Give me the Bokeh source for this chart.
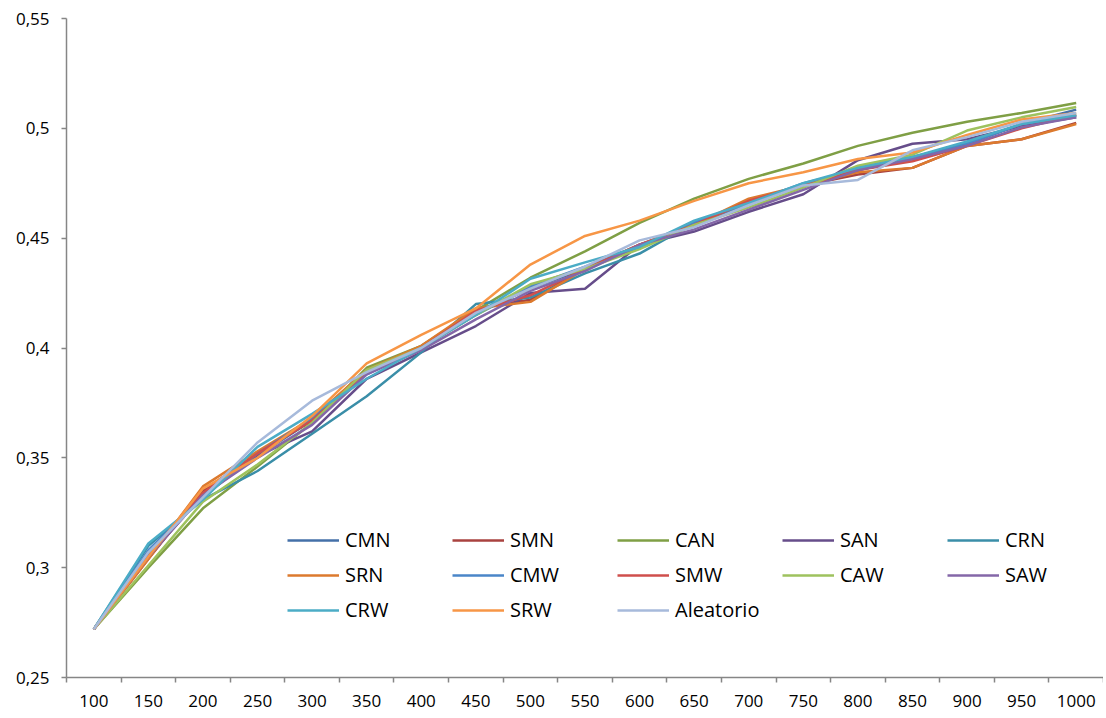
from bokeh.plotting import figure
from bokeh.models import Legend, LegendItem, FixedTicker, Range1d
from bokeh.embed import file_html
from bokeh.resources import INLINE

x_vals = [100, 150, 200, 250, 300, 350, 400, 450, 500, 550, 600, 650, 700, 750, 800, 850, 900, 950, 1000]

CMN = [0.272, 0.306, 0.333, 0.351, 0.367, 0.389, 0.400, 0.416, 0.427, 0.436, 0.447, 0.456, 0.466, 0.474, 0.482, 0.487, 0.493, 0.502, 0.5085]
SMN = [0.272, 0.304, 0.335, 0.352, 0.367, 0.389, 0.400, 0.418, 0.422, 0.436, 0.446, 0.456, 0.467, 0.474, 0.479, 0.482, 0.492, 0.495, 0.5025]
CAN = [0.272, 0.300, 0.327, 0.346, 0.366, 0.391, 0.401, 0.417, 0.432, 0.444, 0.457, 0.468, 0.477, 0.484, 0.492, 0.498, 0.503, 0.507, 0.5115]
SAN = [0.272, 0.305, 0.333, 0.351, 0.362, 0.386, 0.398, 0.410, 0.425, 0.427, 0.447, 0.453, 0.462, 0.470, 0.4855, 0.493, 0.495, 0.501, 0.505]
CRN = [0.272, 0.310, 0.331, 0.344, 0.361, 0.378, 0.398, 0.420, 0.423, 0.434, 0.443, 0.457, 0.466, 0.474, 0.481, 0.486, 0.493, 0.502, 0.506]
SRN = [0.272, 0.304, 0.337, 0.353, 0.368, 0.390, 0.401, 0.418, 0.421, 0.436, 0.447, 0.456, 0.468, 0.474, 0.480, 0.482, 0.492, 0.495, 0.502]
CMW = [0.272, 0.308, 0.332, 0.352, 0.368, 0.388, 0.400, 0.415, 0.428, 0.437, 0.446, 0.457, 0.466, 0.475, 0.481, 0.486, 0.493, 0.502, 0.506]
SMW = [0.272, 0.305, 0.334, 0.352, 0.367, 0.389, 0.400, 0.417, 0.424, 0.436, 0.447, 0.456, 0.467, 0.474, 0.481, 0.485, 0.492, 0.500, 0.506]
CAW = [0.272, 0.301, 0.330, 0.347, 0.366, 0.390, 0.400, 0.415, 0.429, 0.436, 0.445, 0.456, 0.464, 0.473, 0.483, 0.488, 0.499, 0.505, 0.5097]
SAW = [0.272, 0.305, 0.333, 0.350, 0.365, 0.388, 0.399, 0.413, 0.426, 0.435, 0.447, 0.454, 0.463, 0.472, 0.481, 0.486, 0.492, 0.5005, 0.505]
CRW = [0.272, 0.311, 0.331, 0.355, 0.370, 0.386, 0.400, 0.415, 0.4315, 0.439, 0.446, 0.458, 0.466, 0.475, 0.482, 0.487, 0.494, 0.502, 0.506]
SRW = [0.272, 0.305, 0.336, 0.350, 0.369, 0.393, 0.406, 0.418, 0.438, 0.451, 0.458, 0.467, 0.475, 0.480, 0.486, 0.489, 0.497, 0.504, 0.507]
Aleatorio = [0.272, 0.307, 0.332, 0.357, 0.376, 0.389, 0.400, 0.416, 0.427, 0.437, 0.449, 0.455, 0.465, 0.474, 0.4765, 0.490, 0.496, 0.503, 0.507]

series_names = ["CMN", "SMN", "CAN", "SAN", "CRN", "SRN", "CMW", "SMW", "CAW", "SAW", "CRW", "SRW", "Aleatorio"]
series_values = [CMN, SMN, CAN, SAN, CRN, SRN, CMW, SMW, CAW, SAW, CRW, SRW, Aleatorio]
series_colors = ["#4470A8", "#A9423F", "#7F9F45", "#664D8A", "#3A8EA8", "#DC7A2E",
                 "#4A86C8", "#CF4F4C", "#9EC25E", "#8467A8", "#4BACC6", "#F79646", "#A7BADB"]

y_ticks = [0.25, 0.30, 0.35, 0.40, 0.45, 0.50, 0.55]

FONT = "Open Sans"
AXIS_COLOR = "#868686"

p = figure(width=1103, height=716, output_backend="svg", toolbar_location=None,
           x_range=Range1d(75, 1025), y_range=Range1d(0.25, 0.55))
p.min_border_left = 66
p.min_border_top = 18
p.min_border_right = 0
p.min_border_bottom = 39
p.outline_line_color = None
p.xgrid.visible = False
p.ygrid.visible = False
p.background_fill_color = "white"
p.border_fill_color = "white"

renderers = []
for name, vals, col in zip(series_names, series_values, series_colors):
    r = p.line(x_vals, vals, line_color=col, line_width=2.5)
    renderers.append(r)

# x axis: labels at category centers, ticks at category boundaries
half = (x_vals[1] - x_vals[0]) / 2
boundaries = [x - half for x in x_vals] + [x_vals[-1] + half]
p.xaxis.ticker = FixedTicker(ticks=x_vals, minor_ticks=boundaries)
p.xaxis.major_tick_out = 0
p.xaxis.major_tick_in = 0
p.xaxis.minor_tick_out = 5
p.xaxis.minor_tick_in = 0
p.xaxis.minor_tick_line_color = AXIS_COLOR
p.xaxis.minor_tick_line_width = 1.5
p.xaxis.major_label_standoff = 12

p.yaxis.ticker = FixedTicker(ticks=y_ticks, minor_ticks=[])
p.yaxis.major_label_overrides = {t: ("%g" % t).replace(".", ",") for t in y_ticks}
p.yaxis.major_tick_out = 5
p.yaxis.major_tick_in = 0
p.yaxis.minor_tick_line_color = None
p.yaxis.major_label_standoff = 12

for ax in (p.xaxis, p.yaxis):
    ax.axis_line_color = AXIS_COLOR
    ax.axis_line_width = 1.5
    ax.major_tick_line_color = AXIS_COLOR
    ax.major_tick_line_width = 1.5
    ax.major_label_text_font = FONT
    ax.major_label_text_font_size = "17px"
    ax.major_label_text_color = "#000000"

# Legend: 3 rows of up to 5 items
rows = [list(range(0, 5)), list(range(5, 10)), list(range(10, 13))]
row_bottoms = [124, 89, 54]
for idxs, yb in zip(rows, row_bottoms):
    items = [LegendItem(label=series_names[i], renderers=[renderers[i]]) for i in idxs]
    lg = Legend(items=items, orientation="horizontal", location=(221, yb))
    lg.glyph_width = 52
    lg.glyph_height = 20
    lg.label_height = 20
    lg.label_width = 100
    lg.label_standoff = 6
    lg.spacing = 7
    lg.padding = 0
    lg.margin = 0
    lg.border_line_color = None
    lg.background_fill_alpha = 0
    lg.label_text_font = FONT
    lg.label_text_font_size = "20px"
    lg.label_text_color = "#000000"
    lg.click_policy = "none"
    p.add_layout(lg, "center")

open("out.html", "w").write(file_html(p, INLINE))
